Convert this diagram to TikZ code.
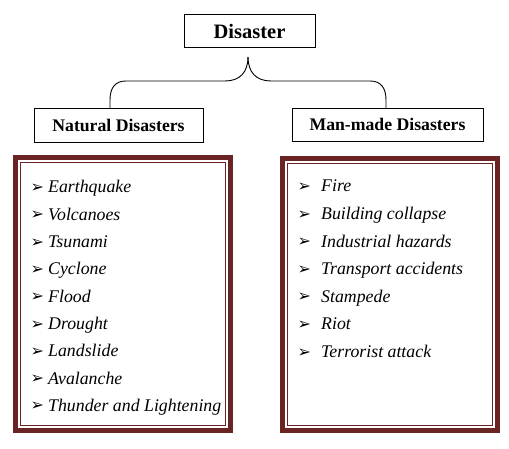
\documentclass[tikz,border=0pt]{standalone}
\usepackage{fontspec}
\setmainfont{Liberation Serif}
\newfontfamily\symfont{DejaVu Sans}
\definecolor{maroon}{HTML}{6A2424}
\begin{document}
\begin{tikzpicture}[x=1pt,y=-1pt,
  hbox/.style={draw=black,line width=0.9pt,inner sep=0pt,font=\bfseries\fontsize{17.7}{20}\selectfont},
  item/.style={anchor=base west,inner sep=0pt,font=\itshape\fontsize{17.8}{22}\selectfont},
  bul/.style={anchor=base west,inner sep=0pt,font=\symfont\fontsize{16}{18}\selectfont},
  brace/.style={draw=black,line width=0.9pt}]
\useasboundingbox (0,0) rectangle (509,449);
% top box
\node[hbox,minimum width=131,minimum height=33,font=\bfseries\fontsize{20.5}{22}\selectfont] (dis) at (249.5,31) {Disaster};
\node[hbox,minimum width=169,minimum height=34] (nat) at (118.5,125) {Natural Disasters};
\node[hbox,minimum width=191,minimum height=33] (man) at (387.5,124.5) {Man-made Disasters};
% brace
\coordinate (tip) at (248,57);
\draw[brace] (tip) .. controls (248,72) and (240,81) .. (225,81) -- (126,81)
  .. controls (115,81) and (110,88) .. (110,100) -- (110,108);
\draw[brace] (tip) .. controls (248,72) and (256,81) .. (271,81) -- (370,81)
  .. controls (381,81) and (386,88) .. (386,100) -- (386,108);
% frames
\foreach \name/\xa/\ya/\xb/\yb in {lf/13/155/233/433, rf/280/156/500/433}{
  \draw[maroon,line width=5pt] (\xa+2.5,\ya+2.5) rectangle (\xb-2.5,\yb-2.5);
  \draw[maroon,line width=1.1pt] (\xa+7.2,\ya+7.2) rectangle (\xb-7.2,\yb-7.2);
}
% left list
\foreach \t [count=\i from 0] in {Earthquake,Volcanoes,Tsunami,Cyclone,Flood,Drought,Landslide,Avalanche,Thunder and Lightening}{
  \node[bul] (lb\i) at (30.5,192.5+27.3*\i) {➢};
  \node[item] (lt\i) at (48,193+27.3*\i) {\t};
}
% right list
\foreach \t [count=\i from 0] in {Fire,Building collapse,Industrial hazards,Transport accidents,Stampede,Riot,Terrorist attack}{
  \node[bul] (rb\i) at (297.5,191.5+27.6*\i) {➢};
  \node[item] (rt\i) at (321,192+27.6*\i) {\t};
}
\end{tikzpicture}
\end{document}
